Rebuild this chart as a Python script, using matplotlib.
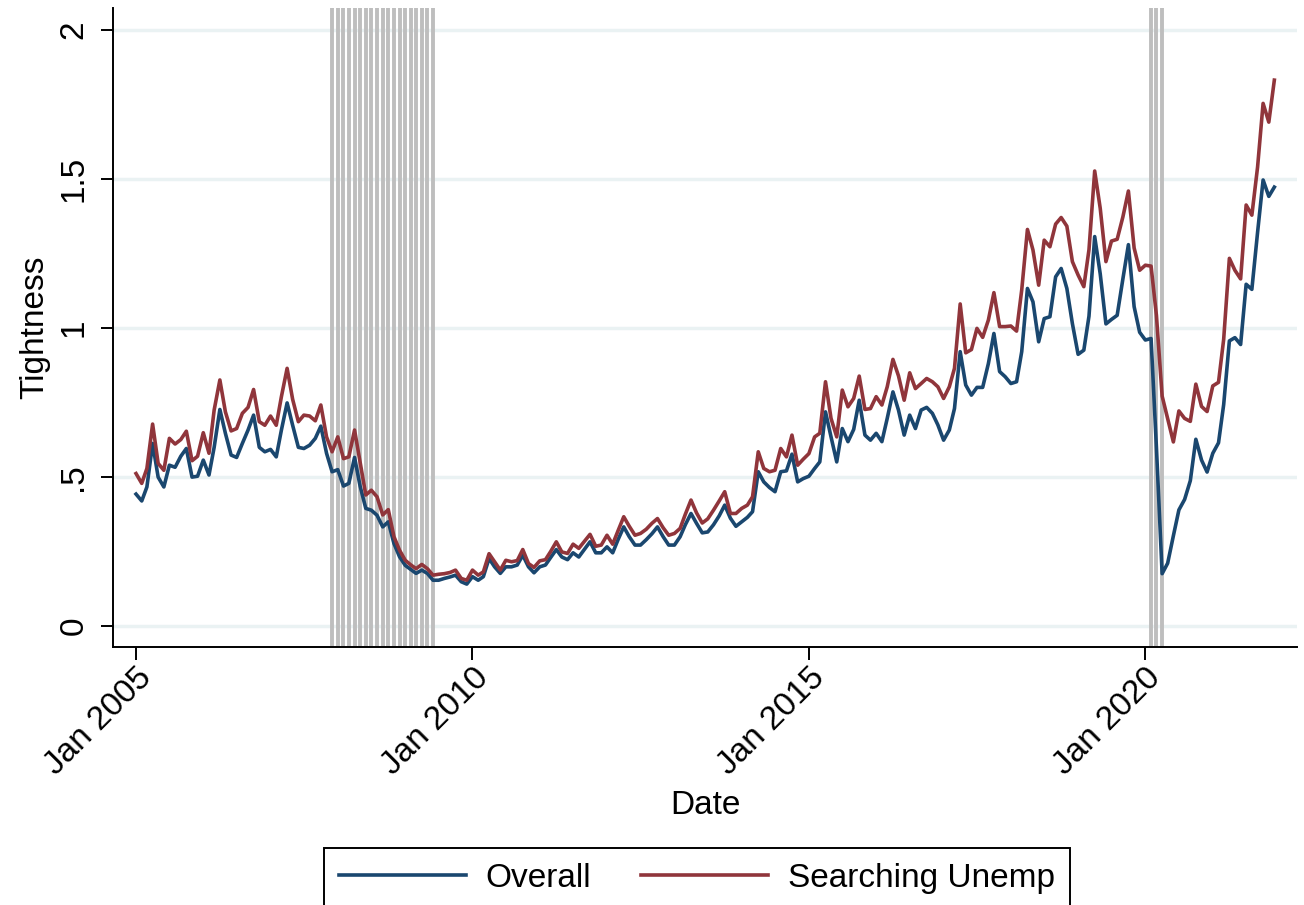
import numpy as np
import pandas as pd
import matplotlib
matplotlib.use('Agg')
import matplotlib.pyplot as plt
import matplotlib.dates as mdates

plt.rcParams['font.family'] = ['Liberation Sans', 'DejaVu Sans']

# monthly series, Jan 2005 - Dec 2021
dates = pd.date_range('2005-01-01', periods=204, freq='MS')

overall = [
    0.443, 0.420, 0.467, 0.613, 0.500, 0.467, 0.540, 0.533, 0.570, 0.596, 0.500, 0.503,  # 2005
    0.557, 0.507, 0.600, 0.727, 0.647, 0.574, 0.566, 0.613, 0.658, 0.708, 0.600, 0.585,  # 2006
    0.593, 0.568, 0.658, 0.749, 0.674, 0.600, 0.596, 0.607, 0.630, 0.671, 0.580, 0.518,  # 2007
    0.525, 0.470, 0.479, 0.566, 0.470, 0.395, 0.389, 0.372, 0.333, 0.350, 0.277, 0.233,  # 2008
    0.204, 0.190, 0.177, 0.188, 0.177, 0.154, 0.154, 0.160, 0.165, 0.171, 0.149, 0.141,  # 2009
    0.166, 0.154, 0.166, 0.227, 0.199, 0.177, 0.199, 0.199, 0.205, 0.238, 0.199, 0.179,  # 2010
    0.199, 0.205, 0.230, 0.257, 0.232, 0.223, 0.246, 0.232, 0.258, 0.283, 0.246, 0.246,  # 2011
    0.266, 0.246, 0.290, 0.333, 0.300, 0.272, 0.272, 0.290, 0.310, 0.333, 0.300, 0.272,  # 2012
    0.272, 0.300, 0.340, 0.378, 0.345, 0.313, 0.316, 0.340, 0.370, 0.406, 0.362, 0.335,  # 2013
    0.350, 0.365, 0.384, 0.518, 0.484, 0.465, 0.451, 0.518, 0.521, 0.577, 0.484, 0.495,  # 2014
    0.503, 0.529, 0.551, 0.719, 0.635, 0.551, 0.663, 0.619, 0.660, 0.758, 0.641, 0.624,  # 2015
    0.647, 0.619, 0.697, 0.786, 0.725, 0.641, 0.708, 0.663, 0.725, 0.734, 0.714, 0.675,  # 2016
    0.624, 0.658, 0.730, 0.921, 0.809, 0.775, 0.801, 0.801, 0.881, 0.982, 0.854, 0.837,  # 2017
    0.814, 0.820, 0.921, 1.133, 1.088, 0.954, 1.032, 1.038, 1.172, 1.200, 1.133, 1.015,  # 2018
    0.912, 0.926, 1.040, 1.307, 1.182, 1.014, 1.029, 1.043, 1.165, 1.280, 1.072, 0.986,  # 2019
    0.960, 0.965, 0.600, 0.176, 0.211, 0.303, 0.390, 0.425, 0.488, 0.627, 0.557, 0.517,  # 2020
    0.580, 0.615, 0.743, 0.957, 0.968, 0.945, 1.147, 1.130, 1.321, 1.497, 1.442, 1.473,  # 2021
]

searching_unemp = [
    0.512, 0.479, 0.529, 0.678, 0.546, 0.523, 0.630, 0.611, 0.626, 0.654, 0.555, 0.570,  # 2005
    0.649, 0.580, 0.725, 0.826, 0.719, 0.655, 0.663, 0.714, 0.734, 0.794, 0.686, 0.674,  # 2006
    0.705, 0.674, 0.770, 0.865, 0.761, 0.686, 0.708, 0.705, 0.689, 0.742, 0.635, 0.585,  # 2007
    0.635, 0.562, 0.568, 0.658, 0.550, 0.440, 0.456, 0.434, 0.373, 0.391, 0.300, 0.255,  # 2008
    0.221, 0.205, 0.193, 0.207, 0.193, 0.171, 0.174, 0.176, 0.180, 0.188, 0.160, 0.154,  # 2009
    0.188, 0.171, 0.182, 0.243, 0.216, 0.188, 0.221, 0.216, 0.220, 0.257, 0.210, 0.197,  # 2010
    0.219, 0.223, 0.250, 0.283, 0.249, 0.244, 0.275, 0.261, 0.285, 0.308, 0.268, 0.272,  # 2011
    0.305, 0.275, 0.320, 0.367, 0.335, 0.305, 0.311, 0.325, 0.345, 0.361, 0.330, 0.305,  # 2012
    0.311, 0.328, 0.375, 0.423, 0.380, 0.346, 0.360, 0.389, 0.420, 0.451, 0.378, 0.378,  # 2013
    0.395, 0.406, 0.434, 0.585, 0.529, 0.518, 0.523, 0.596, 0.568, 0.641, 0.540, 0.560,  # 2014
    0.579, 0.635, 0.647, 0.820, 0.697, 0.635, 0.792, 0.736, 0.764, 0.839, 0.727, 0.730,  # 2015
    0.770, 0.742, 0.803, 0.895, 0.840, 0.758, 0.850, 0.797, 0.814, 0.831, 0.820, 0.803,  # 2016
    0.764, 0.803, 0.865, 1.081, 0.917, 0.928, 0.999, 0.969, 1.027, 1.119, 1.005, 1.005,  # 2017
    1.007, 0.990, 1.128, 1.331, 1.262, 1.144, 1.295, 1.273, 1.349, 1.371, 1.342, 1.223,  # 2018
    1.178, 1.139, 1.263, 1.527, 1.402, 1.223, 1.292, 1.298, 1.373, 1.460, 1.269, 1.194,  # 2019
    1.211, 1.208, 1.043, 0.772, 0.697, 0.618, 0.722, 0.697, 0.687, 0.812, 0.737, 0.720,  # 2020
    0.806, 0.818, 0.962, 1.234, 1.194, 1.165, 1.413, 1.379, 1.540, 1.754, 1.691, 1.832,  # 2021
]

# NBER recession months (first, last)
recessions = [('2007-12-01', '2009-06-01'), ('2020-02-01', '2020-04-01')]

y_ticks = [0, 0.5, 1, 1.5, 2]
y_ticklabels = ['0', '.5', '1', '1.5', '2']

fs = 24

fig = plt.figure(figsize=(13.04, 9.05), dpi=100)
ax = fig.add_axes([113 / 1304, 1 - 647 / 905, 1184 / 1304, 639 / 905])

for start, end in recessions:
    for d in pd.date_range(start, end, freq='MS'):
        ax.axvline(d, color='#bebebe', lw=2.8, zorder=1)

ax.plot(dates, overall, color='#1a476f', lw=2.6, label='Overall', zorder=3)
ax.plot(dates, searching_unemp, color='#90353b', lw=2.6, label='Searching Unemp', zorder=3)

ax.set_ylim(-0.07, 2.074)
ax.set_xlim(pd.Timestamp('2004-08-29'), pd.Timestamp('2022-04-03'))

ax.set_yticks(y_ticks)
ax.set_yticklabels(y_ticklabels, rotation=90, va='center')
ax.yaxis.grid(True, color='#eaf2f3', lw=2.5, zorder=0)
ax.set_axisbelow(True)

ax.xaxis.set_major_locator(mdates.YearLocator(5))
ax.xaxis.set_major_formatter(mdates.DateFormatter('%b %Y'))
plt.setp(ax.get_xticklabels(), rotation=45, ha='right', rotation_mode='anchor')

for s in ['top', 'right']:
    ax.spines[s].set_visible(False)
for s in ['left', 'bottom']:
    ax.spines[s].set_linewidth(1.4)

ax.tick_params(axis='both', labelsize=fs, length=9, width=1.4, color='black')
ax.tick_params(axis='y', pad=8)
ax.tick_params(axis='x', pad=2)

ax.set_xlabel('Date', fontsize=fs)
ax.xaxis.set_label_coords(0.5, -0.224)
ax.set_ylabel('Tightness', fontsize=fs)
ax.yaxis.set_label_coords(-0.053, 0.5)

leg = ax.legend(loc='upper center', bbox_to_anchor=(697 / 1304, 1 - 848 / 905),
                bbox_transform=fig.transFigure, ncol=2, fontsize=fs,
                frameon=True, fancybox=False, edgecolor='black', framealpha=1,
                handlelength=3.8, handletextpad=0.6, columnspacing=1.5,
                borderpad=0.45, borderaxespad=0)
leg.get_frame().set_linewidth(1.4)

fig.savefig('out.png', dpi=100)
